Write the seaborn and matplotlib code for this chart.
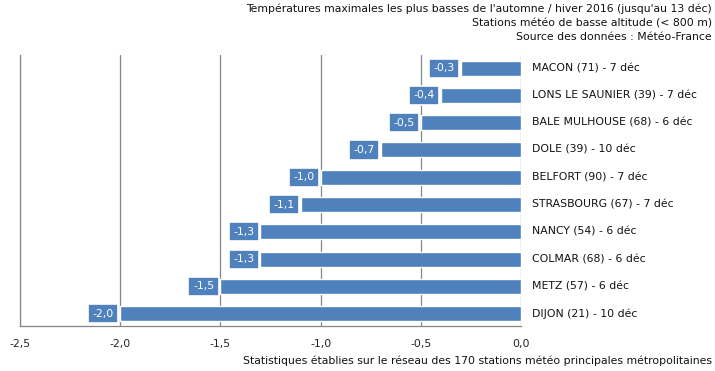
import matplotlib
matplotlib.use('Agg')
import matplotlib.pyplot as plt
import seaborn as sns
import pandas as pd

stations = ["MACON (71) - 7 déc", "LONS LE SAUNIER (39) - 7 déc", "BALE MULHOUSE (68) - 6 déc",
            "DOLE (39) - 10 déc", "BELFORT (90) - 7 déc", "STRASBOURG (67) - 7 déc",
            "NANCY (54) - 6 déc", "COLMAR (68) - 6 déc", "METZ (57) - 6 déc", "DIJON (21) - 10 déc"]
tmax = [-0.3, -0.4, -0.5, -0.7, -1.0, -1.1, -1.3, -1.3, -1.5, -2.0]
xticks = [-2.5, -2.0, -1.5, -1.0, -0.5, 0.0]

df = pd.DataFrame({"station": stations, "tmax": tmax})
blue = "#4F81BD"
grey = "#868686"
fs = 7.8

sns.set_style("white")
plt.rcParams['font.family'] = ['DejaVu Sans']

fig = plt.figure(figsize=(7.15, 3.71), dpi=100)
ax = fig.add_axes([20/715, 1-326/371, 501/715, 271/371])
sns.barplot(data=df, x="tmax", y="station", orient="h", color=blue, width=0.55,
            saturation=1, ax=ax)

ax.set_xlim(-2.5, 0)
ax.set_ylim(9.45, -0.48)
ax.set_xticks(xticks)
ax.set_xticklabels([f"{t:.1f}".replace(".", ",") for t in xticks], fontsize=fs, color="#222222")
ax.set_yticks([])
ax.set_xlabel("")
ax.set_ylabel("")
ax.tick_params(axis="x", length=0, pad=9)
for x in xticks:
    ax.axvline(x, color=grey, lw=0.9, zorder=0)
for s in ["top", "right"]:
    ax.spines[s].set_visible(False)
for s in ["left", "bottom"]:
    ax.spines[s].set_color(grey)
    ax.spines[s].set_linewidth(0.9)

for i, (name, v) in enumerate(zip(stations, tmax)):
    ax.annotate(f"{v:.1f}".replace(".", ","), (v, i), xytext=(-4.5, 0), textcoords="offset points",
                ha="right", va="center", fontsize=fs, color="white",
                bbox=dict(boxstyle="square,pad=0.42", fc=blue, ec="white", lw=1.2))
    ax.annotate(name, (0, i), xytext=(8, 0), textcoords="offset points",
                ha="left", va="center", fontsize=fs, color="#111111", annotation_clip=False)

fig.text(712/715, 1-9/371, "Températures maximales les plus basses de l'automne / hiver 2016 (jusqu'au 13 déc)",
         ha="right", va="center", fontsize=fs, color="#111111")
fig.text(712/715, 1-23/371, "Stations météo de basse altitude (< 800 m)",
         ha="right", va="center", fontsize=fs, color="#111111")
fig.text(712/715, 1-37/371, "Source des données : Météo-France",
         ha="right", va="center", fontsize=fs, color="#111111")
fig.text(712/715, 1-361/371, "Statistiques établies sur le réseau des 170 stations météo principales métropolitaines",
         ha="right", va="center", fontsize=fs, color="#111111")

fig.savefig("out.png", dpi=100)
